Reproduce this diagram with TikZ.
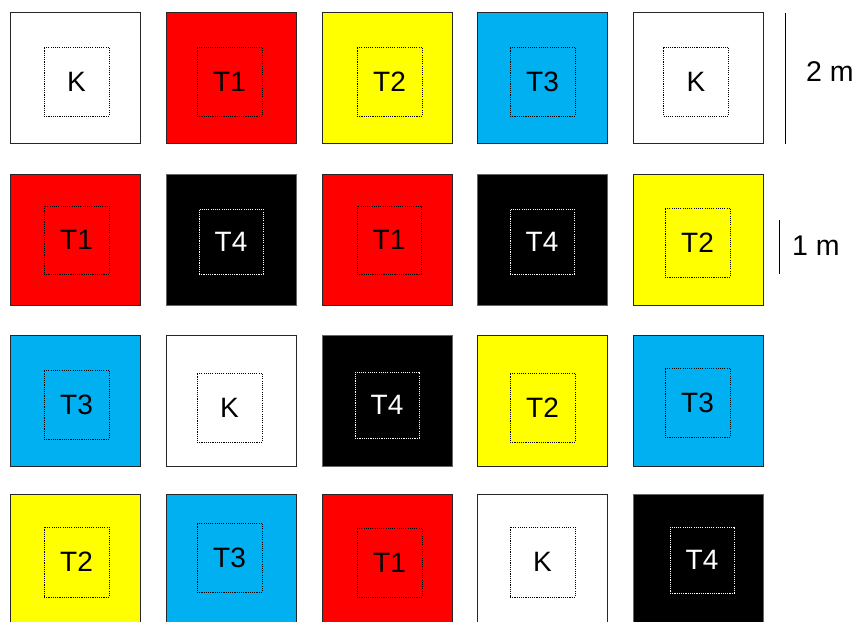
\documentclass[tikz,border=0pt]{standalone}
\usepackage{fontspec}
\setmainfont{Liberation Sans}
\definecolor{cred}{HTML}{FF0000}
\definecolor{cyel}{HTML}{FFFF00}
\definecolor{cblu}{HTML}{00B0F0}
\tikzset{
  cell/.style={draw=black!85, line width=0.9pt, minimum width=130pt, minimum height=131pt, inner sep=0pt, outer sep=0pt},
  cK/.style={cell, fill=white},
  cT1/.style={cell, fill=cred},
  cT2/.style={cell, fill=cyel},
  cT3/.style={cell, fill=cblu},
  cT4/.style={cell, fill=black, draw=black!60},
  inbox/.style={draw=black, line width=0.8pt, dash pattern=on 1.1pt off 1.1pt, inner sep=0pt, minimum width=65pt, minimum height=69pt, font=\fontsize{28}{30}\selectfont, text=black},
  inboxw/.style={inbox, draw=white, text=white},
  scalebar/.style={draw=black, line width=0.9pt},
  scaletext/.style={font=\fontsize{28.5}{30}\selectfont, anchor=west, inner sep=0pt}
}
\begin{document}
\begin{tikzpicture}[x=1pt,y=-1pt]
\useasboundingbox (0,0) rectangle (858,621);
% row 1
\node[cK]  (o11) at (75,78) {};
\node[cT1] (o12) at (231,78) {};
\node[cT2] (o13) at (387,78) {};
\node[cT3] (o14) at (542.5,78) {};
\node[cK]  (o15) at (698,78) {};
% row 2
\node[cT1] (o21) at (75,240) {};
\node[cT4] (o22) at (231,240) {};
\node[cT1] (o23) at (387,240) {};
\node[cT4] (o24) at (542.5,240) {};
\node[cT2] (o25) at (698,240) {};
% row 3
\node[cT3] (o31) at (75,401) {};
\node[cK]  (o32) at (231,401) {};
\node[cT4] (o33) at (387,401) {};
\node[cT2] (o34) at (542.5,401) {};
\node[cT3] (o35) at (698,401) {};
% row 4
\node[cT2] (o41) at (75,559.5) {};
\node[cT3] (o42) at (231,559.5) {};
\node[cT1] (o43) at (387,559.5) {};
\node[cK]  (o44) at (542.5,559.5) {};
\node[cT4] (o45) at (698,559.5) {};
% inner boxes with labels
\node[inbox] (i11) at (76.5,81.5) {K};
\node[inbox] (i12) at (229.5,81.5) {T1};
\node[inbox] (i13) at (389.5,81.5) {T2};
\node[inbox] (i14) at (542.5,81.5) {T3};
\node[inbox] (i15) at (696,81.5) {K};
\node[inbox, minimum height=68pt] (i21) at (76.5,240) {T1};
\node[inboxw, minimum width=64pt, minimum height=65pt] (i22) at (231,241.5) {T4};
\node[inbox, minimum width=64pt, minimum height=68pt] (i23) at (389,240) {T1};
\node[inboxw, minimum width=64pt, minimum height=65pt] (i24) at (542,241.5) {T4};
\node[inbox] (i25) at (697.5,242.5) {T2};
\node[inbox] (i31) at (76.5,404.5) {T3};
\node[inbox] (i32) at (229.5,407.5) {K};
\node[inboxw, minimum width=64pt, minimum height=66pt] (i33) at (387,405) {T4};
\node[inbox] (i34) at (542.5,407.5) {T2};
\node[inbox] (i35) at (697.5,402.5) {T3};
\node[inbox, minimum height=70pt] (i41) at (76.5,562) {T2};
\node[inbox] (i42) at (229.5,557.5) {T3};
\node[inbox] (i43) at (389.5,562.5) {T1};
\node[inbox, minimum height=70pt] (i44) at (542.5,562) {K};
\node[inboxw, minimum width=64pt, minimum height=66pt] (i45) at (702,560) {T4};
% scale bars
\coordinate (s2a) at (785,13);
\coordinate (s2b) at (785,144);
\draw[scalebar] (s2a) -- (s2b);
\node[scaletext] (t2) at (806,72) {2 m};
\coordinate (s1a) at (779,220);
\coordinate (s1b) at (779,274);
\draw[scalebar] (s1a) -- (s1b);
\node[scaletext] (t1) at (792,246) {1 m};
\end{tikzpicture}
\end{document}
